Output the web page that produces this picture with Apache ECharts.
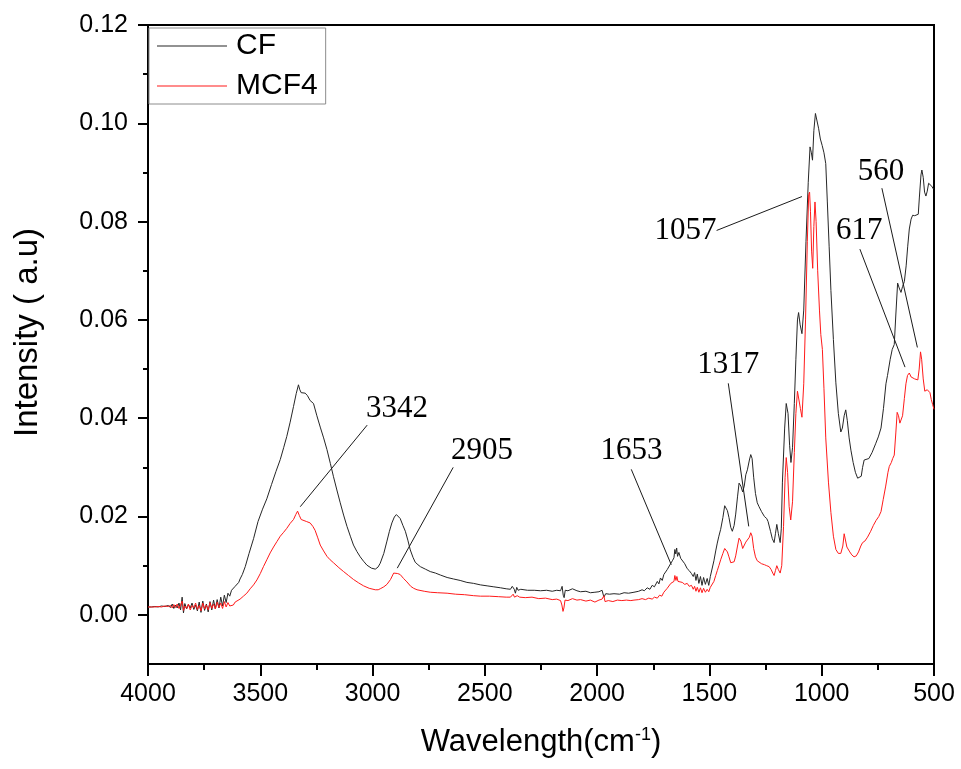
<!DOCTYPE html>
<html>
<head>
<meta charset="utf-8">
<title>FTIR CF / MCF4</title>
<script src="https://cdn.jsdelivr.net/npm/echarts@6/dist/echarts.min.js"></script>
<style>
  html, body { margin: 0; padding: 0; background: #fff; }
  #chart { width: 961px; height: 769px; }
</style>
</head>
<body>
<div id="chart"></div>
<script>
(function (echarts) {
  "use strict";

  // wavenumber (cm-1), intensity
  var cfData = [
    [4000,0.0016],[3985,0.0016],[3970,0.0017],[3955,0.0016],[3940,0.0018],[3925,0.0017],[3910,0.0019],[3900,0.0015],
    [3892,0.0022],[3885,0.0013],[3878,0.0020],[3870,0.0014],[3862,0.0024],[3855,0.0010],[3848,0.0036],[3842,0.0004],
    [3836,0.0023],[3828,0.0012],[3820,0.0021],[3812,0.0014],[3804,0.0024],[3796,0.0011],[3788,0.0020],[3780,0.0008],
    [3772,0.0026],[3764,0.0005],[3756,0.0028],[3748,0.0009],[3740,0.0022],[3732,0.0006],[3724,0.0027],[3716,0.0010],
    [3708,0.0030],[3700,0.0012],[3692,0.0031],[3684,0.0014],[3676,0.0036],[3668,0.0018],[3660,0.0040],[3652,0.0025],
    [3644,0.0044],[3636,0.0038],[3628,0.0050],[3620,0.0047],[3612,0.0058],[3604,0.0060],[3596,0.0066],[3590,0.0073],
    [3580,0.0082],[3567,0.0098],[3550,0.0125],[3530,0.0155],[3510,0.0190],[3490,0.0215],[3471,0.0236],[3450,0.0265],
    [3430,0.0292],[3411,0.0316],[3396,0.0340],[3382,0.0363],[3367,0.0392],[3352,0.0424],[3340,0.0450],[3330,0.0468],
    [3324,0.0458],[3318,0.0452],[3310,0.0454],[3300,0.0451],[3290,0.0446],[3278,0.0436],[3263,0.0430],[3248,0.0405],
    [3233,0.0382],[3218,0.0360],[3203,0.0336],[3188,0.0308],[3174,0.0281],[3159,0.0254],[3144,0.0228],[3129,0.0203],
    [3114,0.0180],[3099,0.0160],[3085,0.0142],[3070,0.0129],[3055,0.0118],[3040,0.0109],[3025,0.0101],[3005,0.0095],
    [2988,0.0093],[2976,0.0097],[2966,0.0105],[2950,0.0125],[2936,0.0150],[2925,0.0170],[2914,0.0187],[2903,0.0199],
    [2894,0.0204],[2886,0.0202],[2877,0.0196],[2865,0.0182],[2854,0.0170],[2843,0.0152],[2832,0.0132],[2820,0.0117],
    [2810,0.0107],[2798,0.0102],[2787,0.0098],[2765,0.0093],[2743,0.0088],[2720,0.0085],[2698,0.0081],[2668,0.0076],
    [2640,0.0073],[2610,0.0070],[2580,0.0066],[2550,0.0064],[2520,0.0061],[2490,0.0059],[2460,0.0057],[2430,0.0055],
    [2405,0.0053],[2386,0.0052],[2378,0.0058],[2374,0.0062],[2369,0.0052],[2364,0.0044],[2358,0.0056],[2352,0.0050],
    [2340,0.0052],[2310,0.0050],[2280,0.0050],[2252,0.0049],[2225,0.0050],[2200,0.0048],[2180,0.0050],[2163,0.0049],
    [2156,0.0058],[2151,0.0040],[2147,0.0035],[2142,0.0050],[2130,0.0049],[2110,0.0053],[2090,0.0049],[2074,0.0047],
    [2050,0.0048],[2030,0.0045],[2010,0.0046],[1992,0.0047],[1978,0.0050],[1970,0.0036],[1962,0.0043],[1945,0.0042],
    [1925,0.0043],[1900,0.0042],[1880,0.0045],[1860,0.0044],[1836,0.0046],[1815,0.0048],[1800,0.0051],[1790,0.0049],
    [1777,0.0055],[1765,0.0052],[1755,0.0060],[1745,0.0057],[1732,0.0068],[1725,0.0063],[1718,0.0075],[1710,0.0070],
    [1703,0.0082],[1695,0.0078],[1688,0.0092],[1680,0.0088],[1673,0.0104],[1665,0.0110],[1658,0.0116],[1654,0.0133],
    [1650,0.0124],[1646,0.0136],[1642,0.0119],[1636,0.0127],[1628,0.0115],[1621,0.0112],[1610,0.0104],[1599,0.0094],
    [1590,0.0090],[1580,0.0084],[1572,0.0078],[1566,0.0086],[1560,0.0070],[1554,0.0083],[1547,0.0064],[1540,0.0078],
    [1533,0.0060],[1526,0.0076],[1518,0.0062],[1510,0.0074],[1503,0.0060],[1496,0.0078],[1488,0.0082],[1480,0.0110],
    [1472,0.0130],[1465,0.0146],[1458,0.0160],[1450,0.0174],[1440,0.0198],[1432,0.0222],[1428,0.0225],[1420,0.0212],
    [1413,0.0198],[1405,0.0178],[1398,0.0170],[1390,0.0182],[1383,0.0205],[1375,0.0240],[1368,0.0268],[1360,0.0262],
    [1352,0.0250],[1345,0.0262],[1338,0.0285],[1331,0.0295],[1322,0.0315],[1316,0.0326],[1310,0.0318],[1303,0.0280],
    [1295,0.0247],[1287,0.0228],[1279,0.0220],[1268,0.0210],[1255,0.0200],[1245,0.0196],[1239,0.0190],[1228,0.0170],
    [1220,0.0155],[1212,0.0147],[1206,0.0165],[1200,0.0184],[1193,0.0165],[1185,0.0147],[1180,0.0175],[1175,0.0270],
    [1165,0.0380],[1158,0.0430],[1150,0.0410],[1143,0.0345],[1137,0.0310],[1130,0.0340],[1122,0.0430],[1115,0.0520],
    [1108,0.0600],[1103,0.0615],[1096,0.0590],[1088,0.0572],[1080,0.0620],[1070,0.0760],[1060,0.0880],[1052,0.0952],
    [1046,0.0940],[1041,0.0925],[1035,0.0985],[1028,0.1020],[1022,0.1018],[1014,0.0990],[1006,0.0968],[998,0.0955],
    [990,0.0940],[982,0.0918],[975,0.0840],[967,0.0750],[959,0.0660],[948,0.0560],[937,0.0472],[926,0.0410],
    [915,0.0372],[908,0.0380],[900,0.0405],[893,0.0417],[886,0.0395],[878,0.0360],[870,0.0335],[860,0.0310],
    [850,0.0290],[840,0.0278],[833,0.0275],[824,0.0282],[818,0.0300],[811,0.0315],[803,0.0312],[790,0.0318],
    [776,0.0330],[760,0.0348],[748,0.0362],[736,0.0380],[725,0.0420],[714,0.0470],[707,0.0487],[695,0.0520],
    [686,0.0540],[677,0.0550],[670,0.0610],[662,0.0675],[655,0.0665],[647,0.0656],[640,0.0668],[632,0.0678],
    [624,0.0710],[617,0.0750],[610,0.0785],[602,0.0805],[595,0.0813],[586,0.0812],[578,0.0810],[570,0.0815],
    [565,0.0850],[558,0.0895],[554,0.0905],[548,0.0890],[542,0.0860],[536,0.0852],[530,0.0862],[524,0.0878],
    [517,0.0882],[510,0.0872],[502,0.0866]
  ];

  var mcfData = [
    [4000,0.0016],[3985,0.0016],[3970,0.0016],[3955,0.0017],[3940,0.0016],[3925,0.0018],[3910,0.0017],[3900,0.0019],
    [3892,0.0014],[3885,0.0021],[3878,0.0015],[3870,0.0022],[3862,0.0013],[3855,0.0020],[3848,0.0028],[3842,0.0009],
    [3836,0.0018],[3828,0.0013],[3820,0.0022],[3812,0.0010],[3804,0.0019],[3796,0.0014],[3788,0.0024],[3780,0.0011],
    [3772,0.0019],[3764,0.0008],[3756,0.0024],[3748,0.0012],[3740,0.0020],[3732,0.0010],[3724,0.0025],[3716,0.0013],
    [3708,0.0022],[3700,0.0012],[3692,0.0026],[3684,0.0015],[3676,0.0024],[3668,0.0013],[3660,0.0027],[3652,0.0016],
    [3644,0.0025],[3636,0.0018],[3628,0.0022],[3620,0.0020],[3612,0.0026],[3605,0.0024],[3590,0.0032],[3575,0.0038],
    [3560,0.0044],[3545,0.0053],[3530,0.0061],[3515,0.0071],[3500,0.0084],[3486,0.0098],[3471,0.0112],[3456,0.0126],
    [3441,0.0138],[3426,0.0149],[3411,0.0160],[3396,0.0168],[3382,0.0176],[3367,0.0186],[3352,0.0194],[3342,0.0204],
    [3334,0.0211],[3326,0.0202],[3318,0.0194],[3310,0.0192],[3295,0.0190],[3278,0.0187],[3266,0.0180],[3256,0.0172],
    [3245,0.0158],[3233,0.0142],[3218,0.0130],[3203,0.0119],[3189,0.0112],[3174,0.0106],[3150,0.0096],[3129,0.0088],
    [3107,0.0080],[3085,0.0072],[3062,0.0065],[3040,0.0059],[3015,0.0054],[2988,0.0051],[2975,0.0051],[2966,0.0053],
    [2950,0.0057],[2936,0.0062],[2920,0.0072],[2906,0.0085],[2899,0.0086],[2888,0.0084],[2877,0.0082],[2862,0.0074],
    [2847,0.0067],[2830,0.0058],[2817,0.0054],[2802,0.0051],[2770,0.0048],[2743,0.0046],[2710,0.0045],[2668,0.0044],
    [2630,0.0042],[2590,0.0041],[2550,0.0039],[2520,0.0038],[2480,0.0038],[2440,0.0037],[2405,0.0036],[2386,0.0036],
    [2378,0.0039],[2374,0.0042],[2368,0.0036],[2362,0.0034],[2356,0.0039],[2345,0.0036],[2320,0.0035],[2290,0.0036],
    [2260,0.0033],[2230,0.0034],[2200,0.0031],[2180,0.0032],[2163,0.0029],[2157,0.0020],[2152,0.0007],[2148,0.0014],
    [2143,0.0030],[2130,0.0029],[2110,0.0033],[2090,0.0030],[2074,0.0031],[2050,0.0028],[2030,0.0030],[2010,0.0026],
    [1992,0.0030],[1978,0.0032],[1970,0.0039],[1965,0.0027],[1950,0.0029],[1930,0.0027],[1910,0.0030],[1890,0.0029],
    [1870,0.0030],[1850,0.0029],[1836,0.0030],[1815,0.0031],[1800,0.0033],[1785,0.0031],[1770,0.0034],[1755,0.0032],
    [1745,0.0036],[1732,0.0034],[1722,0.0040],[1712,0.0038],[1703,0.0046],[1695,0.0044],[1688,0.0054],[1680,0.0058],
    [1672,0.0064],[1665,0.0066],[1658,0.0068],[1654,0.0080],[1649,0.0070],[1645,0.0078],[1640,0.0068],[1632,0.0070],
    [1621,0.0066],[1610,0.0062],[1599,0.0064],[1590,0.0058],[1580,0.0060],[1572,0.0052],[1566,0.0058],[1560,0.0048],
    [1554,0.0056],[1547,0.0046],[1540,0.0055],[1533,0.0045],[1526,0.0054],[1518,0.0046],[1510,0.0052],[1503,0.0047],
    [1496,0.0056],[1488,0.0060],[1480,0.0068],[1472,0.0080],[1465,0.0090],[1458,0.0100],[1450,0.0112],[1440,0.0125],
    [1432,0.0135],[1428,0.0137],[1420,0.0128],[1413,0.0118],[1405,0.0106],[1398,0.0102],[1390,0.0108],[1383,0.0120],
    [1375,0.0140],[1368,0.0156],[1360,0.0150],[1352,0.0135],[1345,0.0138],[1338,0.0148],[1331,0.0146],[1322,0.0158],
    [1316,0.0167],[1310,0.0160],[1303,0.0135],[1295,0.0118],[1287,0.0110],[1279,0.0108],[1268,0.0104],[1255,0.0102],
    [1245,0.0100],[1234,0.0098],[1225,0.0092],[1218,0.0085],[1212,0.0080],[1206,0.0090],[1200,0.0100],[1193,0.0092],
    [1185,0.0085],[1178,0.0100],[1170,0.0180],[1163,0.0280],[1158,0.0320],[1152,0.0290],[1145,0.0220],[1138,0.0193],
    [1130,0.0230],[1122,0.0330],[1115,0.0410],[1108,0.0455],[1102,0.0458],[1095,0.0420],[1088,0.0402],[1080,0.0470],
    [1072,0.0600],[1064,0.0760],[1058,0.0855],[1054,0.0860],[1050,0.0820],[1045,0.0740],[1040,0.0705],[1035,0.0790],
    [1030,0.0840],[1025,0.0800],[1018,0.0700],[1010,0.0620],[1004,0.0570],[997,0.0540],[990,0.0460],[982,0.0360],
    [970,0.0270],[959,0.0208],[948,0.0160],[937,0.0133],[926,0.0125],[915,0.0125],[906,0.0140],[900,0.0165],
    [895,0.0162],[888,0.0138],[882,0.0142],[875,0.0128],[866,0.0122],[856,0.0118],[846,0.0120],[836,0.0128],
    [826,0.0140],[818,0.0147],[808,0.0150],[796,0.0158],[782,0.0170],[770,0.0182],[758,0.0192],[746,0.0200],
    [736,0.0210],[726,0.0235],[715,0.0262],[705,0.0290],[699,0.0302],[690,0.0310],[684,0.0318],[677,0.0325],
    [670,0.0370],[664,0.0412],[658,0.0405],[652,0.0390],[647,0.0386],[640,0.0405],[632,0.0440],[625,0.0470],
    [618,0.0487],[610,0.0492],[602,0.0484],[594,0.0482],[586,0.0480],[578,0.0476],[572,0.0478],[566,0.0500],
    [560,0.0535],[555,0.0520],[548,0.0480],[541,0.0455],[536,0.0452],[530,0.0458],[524,0.0462],[518,0.0452],
    [512,0.0438],[506,0.0428],[500,0.0418]
  ];

  var seriesNames = ['CF', 'MCF4'];

  // tick values
  var yMajorTicks = [0, 0.02, 0.04, 0.06, 0.08, 0.10, 0.12];
  var yMinorTicks = [0.01, 0.03, 0.05, 0.07, 0.09, 0.11];

  // peak annotations: label text, label centre, leader line start and end (data units)
  var peakLabels = ['3342', '2905', '1653', '1317', '1057', '617', '560'];
  var labelAt = [[2891, 0.0419], [2513, 0.0334], [1847, 0.0334], [1416, 0.0508], [1607, 0.0781], [833, 0.0781], [736, 0.0901]];
  var leaderFrom = [[3024, 0.0386], [2641, 0.0300], [1848, 0.0296], [1416, 0.0471], [1468, 0.0782], [830, 0.0744], [732, 0.0868]];
  var leaderTo = [[3322, 0.0220], [2890, 0.0095], [1670, 0.0102], [1325, 0.0180], [1088, 0.0851], [629, 0.0504], [574, 0.0544]];

  var SANS = '"Liberation Sans", Arial, sans-serif';
  var SERIF = '"Liberation Serif", "Times New Roman", serif';

  var labelPoints = peakLabels.map(function (t, i) {
    return { name: t, value: labelAt[i] };
  });
  var leaders = leaderFrom.map(function (p, i) {
    return [{ coord: p }, { coord: leaderTo[i] }];
  });

  var chart = echarts.init(document.getElementById('chart'), null, { renderer: 'canvas' });

  chart.setOption({
    animation: false,
    backgroundColor: '#fff',
    grid: {
      left: 148, right: 27, top: 25, bottom: 105,
      show: true, borderColor: '#000', borderWidth: 2
    },
    legend: {
      data: seriesNames,
      orient: 'vertical',
      left: 149, top: 28,
      padding: [2, 8, 2, 8],
      itemGap: 8,
      icon: 'rect',
      itemWidth: 70, itemHeight: 1.2,
      borderColor: '#8c8c8c', borderWidth: 1,
      backgroundColor: '#fff',
      textStyle: { fontFamily: SANS, fontSize: 30, color: '#000', lineHeight: 32, padding: [0, 0, 0, 4] }
    },
    xAxis: {
      type: 'value',
      inverse: true,
      min: 500, max: 4000, interval: 500,
      name: '{a|Wavelength(cm}{b|-1}{a|)}',
      nameLocation: 'middle',
      nameGap: 62,
      nameTextStyle: {
        rich: {
          a: { fontFamily: SANS, fontSize: 31, color: '#000' },
          b: { fontFamily: SANS, fontSize: 18, color: '#000', verticalAlign: 'top', padding: [0, 0, 14, 0] }
        }
      },
      axisLine: { onZero: false, lineStyle: { color: '#000', width: 2 } },
      axisTick: { inside: false, length: 12, lineStyle: { color: '#000', width: 2 } },
      minorTick: { show: true, splitNumber: 2, length: 6, lineStyle: { color: '#000', width: 2 } },
      axisLabel: {
        fontFamily: SANS, fontSize: 25, color: '#000', margin: 18,
        formatter: function (v) { return String(v); }
      },
      splitLine: { show: false }
    },
    yAxis: [{
      type: 'value',
      min: -0.01, max: 0.12,
      name: 'Intensity ( a.u)',
      nameLocation: 'middle',
      nameGap: 104,
      nameTextStyle: { fontFamily: SANS, fontSize: 33, color: '#000', padding: [0, 0, 0, 24] },
      axisLine: { onZero: false, lineStyle: { color: '#000', width: 2 } },
      axisTick: { inside: false, length: 10, lineStyle: { color: '#000', width: 2 }, customValues: yMajorTicks },
      axisLabel: {
        fontFamily: SANS, fontSize: 25, color: '#000', margin: 20,
        customValues: yMajorTicks,
        formatter: function (v) { return v.toFixed(2); }
      },
      splitLine: { show: false }
    }, {
      // minor ticks only
      type: 'value',
      position: 'left',
      min: -0.01, max: 0.12,
      axisLine: { show: false, onZero: false },
      axisTick: { inside: false, length: 5, lineStyle: { color: '#000', width: 2 }, customValues: yMinorTicks },
      axisLabel: { show: false },
      splitLine: { show: false }
    }],
    series: [{
      name: 'CF',
      type: 'line',
      data: cfData,
      symbol: 'none',
      lineStyle: { color: '#262626', width: 1 },
      itemStyle: { color: '#262626' },
      z: 3
    }, {
      name: 'MCF4',
      type: 'line',
      data: mcfData,
      symbol: 'none',
      lineStyle: { color: '#ff1a1a', width: 1 },
      itemStyle: { color: '#ff1a1a' },
      z: 4
    }, {
      name: 'peaks',
      type: 'scatter',
      data: labelPoints,
      symbolSize: 0,
      silent: true,
      z: 5,
      itemStyle: { color: '#000', opacity: 1 },
      label: {
        show: true,
        position: 'inside',
        formatter: '{b}',
        fontFamily: SERIF, fontSize: 31, color: '#000',
        opacity: 1,
        textBorderWidth: 0
      },
      markLine: {
        silent: true,
        symbol: ['none', 'none'],
        label: { show: false },
        lineStyle: { color: '#1a1a1a', width: 1, type: 'solid', opacity: 1 },
        data: leaders
      }
    }]
  });
})(echarts);
</script>
</body>
</html>
